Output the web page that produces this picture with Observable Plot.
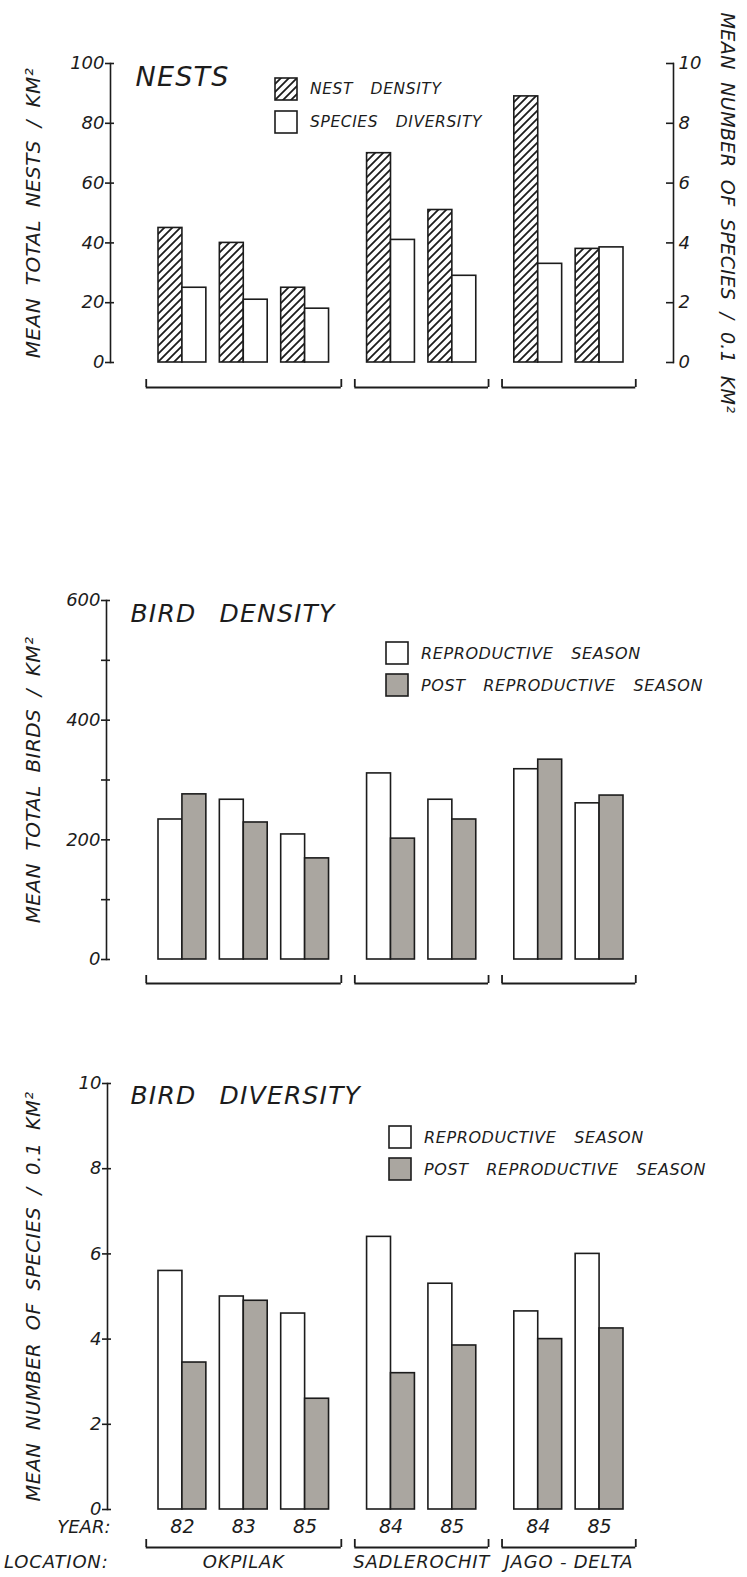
<!DOCTYPE html>
<html>
<head>
<meta charset="utf-8">
<script src="https://cdn.jsdelivr.net/npm/d3@7"></script>
<script src="https://cdn.jsdelivr.net/npm/@observablehq/plot@0.6"></script>
<style>
  html, body { margin: 0; padding: 0; background: #fff; }
  #page { position: relative; width: 747px; height: 1577px; overflow: hidden;
          font-family: "DejaVu Sans", sans-serif; font-style: italic; color: #1c1c1c; }
  .panel { position: absolute; left: 0; }
  .panel svg { overflow: visible; }
  .legend-item { position: absolute; display: flex; align-items: center; white-space: nowrap;
                 font-size: 16px; letter-spacing: 0.6px; word-spacing: 12px; }
  .legend-item svg { margin-right: 12px; flex: none; }
  .wide text { word-spacing: 6px; letter-spacing: 0.4px; }
  .title text { word-spacing: 14px; letter-spacing: 1.2px; }
  .loc text { letter-spacing: 0.8px; }
</style>
</head>
<body>
<div id="page"></div>
<script>
// ---------------- data ----------------
const groupOrder = ["OKPILAK", "SADLEROCHIT", "JAGO - DELTA"];
const locations = ["OKPILAK", "OKPILAK", "OKPILAK", "SADLEROCHIT", "SADLEROCHIT", "JAGO - DELTA", "JAGO - DELTA"];
const years = ["82", "83", "85", "84", "85", "84", "85"];

const nestDensity = [45, 40, 25, 70, 51, 89, 38];            // nests / km2 (left axis)
const nestSpeciesDiversity = [2.5, 2.1, 1.8, 4.1, 2.9, 3.3, 3.85]; // species / 0.1 km2 (right axis)

const birdDensityRepro = [234, 267, 209, 311, 267, 318, 261];
const birdDensityPost = [276, 229, 169, 202, 234, 334, 274];

const birdDiversityRepro = [5.6, 5.0, 4.6, 6.4, 5.3, 4.65, 6.0];
const birdDiversityPost = [3.45, 4.9, 2.6, 3.2, 3.85, 4.0, 4.25];

const nestTicks = [0, 20, 40, 60, 80, 100];
const speciesTickLabels = ["0", "2", "4", "6", "8", "10"];
const densityTicks = [0, 100, 200, 300, 400, 500, 600];
const densityTickLabels = ["0", "", "200", "", "400", "", "600"];
const diversityTicks = [0, 2, 4, 6, 8, 10];

const titles = ["NESTS", "BIRD DENSITY", "BIRD DIVERSITY"];
const yLabels = ["MEAN TOTAL NESTS / KM²", "MEAN TOTAL BIRDS / KM²", "MEAN NUMBER OF SPECIES / 0.1 KM²"];
const rightLabel = "MEAN NUMBER OF SPECIES / 0.1 KM²";
const nestLegend = ["NEST DENSITY", "SPECIES DIVERSITY"];
const seasonLegend = ["REPRODUCTIVE SEASON", "POST REPRODUCTIVE SEASON"];

// ---------------- styling / layout ----------------
const INK = "#1c1c1c";
const GRAY = "#aaa6a0";
const GAP = 0.4;     // extra slot gap between locations
const BAR = 0.39;    // width of one bar in slot units
const slots = locations.map((loc, i) => i + GAP * groupOrder.indexOf(loc));
const rows = years.map((yr, i) => ({location: locations[i], year: yr, slot: slots[i], i}));
const groups = groupOrder.map(g => {
  const s = rows.filter(r => r.location === g).map(r => r.slot);
  return {location: g, x1: d3.min(s) - 0.2, x2: d3.max(s) + 2 * BAR + 0.2};
});
const bracketEnds = groups.flatMap(g => [g.x1, g.x2]);
const xMax = d3.max(slots) + 2 * BAR;

const HATCH = `<pattern id="hatch" patternUnits="userSpaceOnUse" width="8" height="8">
  <rect width="8" height="8" fill="#fff"/>
  <path d="M-2,2 l4,-4 M0,8 l8,-8 M6,10 l4,-4" stroke="${INK}" stroke-width="1.8"/></pattern>`;

function makePanel({top, height, marginTop, marginBottom, marginLeft, yDomain, marks}) {
  const svg = Plot.plot({
    width: 747, height, marginTop, marginBottom, marginLeft, marginRight: 74,
    x: {type: "linear", domain: [0, xMax], range: [158, 623], axis: null},
    y: {domain: yDomain, label: null},
    style: {fontFamily: '"DejaVu Sans", sans-serif', fontStyle: "italic", fontSize: "18px",
            color: INK, background: "transparent", overflow: "visible"},
    marks
  });
  d3.select(svg).insert("defs", ":first-child").html(HATCH);
  const div = document.createElement("div");
  div.className = "panel";
  div.style.top = top + "px";
  div.appendChild(svg);
  document.getElementById("page").appendChild(div);
}

function pairMarks(valuesA, valuesB, fillA, fillB, yMul = 1, yMulB = 1) {
  const a = rows.map(r => ({...r, v: valuesA[r.i] * yMul}));
  const b = rows.map(r => ({...r, v: valuesB[r.i] * yMulB}));
  return [
    Plot.rect(a, {x1: d => d.slot, x2: d => d.slot + BAR, y1: 0, y2: "v", fill: fillA, stroke: INK, strokeWidth: 1.6}),
    Plot.rect(b, {x1: d => d.slot + BAR, x2: d => d.slot + 2 * BAR, y1: 0, y2: "v", fill: fillB, stroke: INK, strokeWidth: 1.6})
  ];
}

function bracketMarks(offset) {
  return [
    Plot.ruleY(groups, {x1: "x1", x2: "x2", y: 0, dy: offset, stroke: INK, strokeWidth: 1.8}),
    Plot.ruleX(bracketEnds, {x: d => d, y1: 0, y2: 0, insetTop: -8, dy: offset, stroke: INK, strokeWidth: 1.8})
  ];
}

function leftAxis(ticks, labels) {
  return Plot.axisY({anchor: "left", ticks, tickFormat: d => labels[ticks.indexOf(d)],
                     tickSize: 9, dx: 4, tickPadding: 1, strokeWidth: 1.6, fontSize: 18, label: null});
}

function title(text, dx, dy, fontSize) {
  return Plot.text([text], {frameAnchor: "top-left", textAnchor: "start", lineAnchor: "middle",
                            dx, dy, fontSize, className: "title"});
}

function sideLabel(text, anchor, dx, fontSize = 20) {
  return Plot.text([text], {frameAnchor: anchor, textAnchor: "middle", lineAnchor: "middle",
                            rotate: anchor === "left" ? -90 : 90, dx, fontSize, className: "wide"});
}

// ---------------- panel 1: NESTS ----------------
makePanel({
  top: 0, height: 410, marginTop: 63, marginBottom: 48, marginLeft: 110, yDomain: [0, 100],
  marks: [
    ...pairMarks(nestDensity, nestSpeciesDiversity, "url(#hatch)", "#fff", 1, 10),
    Plot.frame({anchor: "left", stroke: INK, strokeWidth: 1.6}),
    Plot.frame({anchor: "right", stroke: INK, strokeWidth: 1.6}),
    leftAxis(nestTicks, nestTicks.map(String)),
    Plot.axisY({anchor: "right", ticks: nestTicks, tickFormat: d => speciesTickLabels[nestTicks.indexOf(d)],
                tickSize: 8, dx: -8, tickPadding: 5, strokeWidth: 1.6, fontSize: 18, label: null}),
    ...bracketMarks(25),
    title(titles[0], 25, 14, 27),
    sideLabel(yLabels[0], "left", -77),
    sideLabel(rightLabel, "right", 54, 19)
  ]
});

// ---------------- panel 2: BIRD DENSITY ----------------
makePanel({
  top: 560, height: 440, marginTop: 40, marginBottom: 41, marginLeft: 106, yDomain: [0, 600],
  marks: [
    ...pairMarks(birdDensityRepro, birdDensityPost, "#fff", GRAY),
    Plot.frame({anchor: "left", stroke: INK, strokeWidth: 1.6}),
    leftAxis(densityTicks, densityTickLabels),
    ...bracketMarks(24),
    title(titles[1], 24, 13, 25),
    sideLabel(yLabels[1], "left", -73)
  ]
});

// ---------------- panel 3: BIRD DIVERSITY ----------------
makePanel({
  top: 1040, height: 537, marginTop: 43, marginBottom: 68, marginLeft: 107, yDomain: [0, 10],
  marks: [
    ...pairMarks(birdDiversityRepro, birdDiversityPost, "#fff", GRAY),
    Plot.frame({anchor: "left", stroke: INK, strokeWidth: 1.6}),
    leftAxis(diversityTicks, diversityTicks.map(String)),
    ...bracketMarks(38),
    Plot.text(rows, {x: d => d.slot + BAR, y: 0, dy: 17, text: "year", fontSize: 19, lineAnchor: "middle"}),
    Plot.text(groups, {x: d => (d.x1 + d.x2) / 2, y: 0, dy: 53, text: "location", fontSize: 18,
                       lineAnchor: "middle", className: "loc"}),
    Plot.text(["YEAR:"], {frameAnchor: "bottom-left", textAnchor: "end", lineAnchor: "middle",
                          dx: 3, dy: 18, fontSize: 18}),
    Plot.text(["LOCATION:"], {frameAnchor: "bottom-left", textAnchor: "end", lineAnchor: "middle",
                              dx: 1, dy: 53, fontSize: 18, className: "loc"}),
    title(titles[2], 23, 12, 25),
    sideLabel(yLabels[2], "left", -74, 19.5)
  ]
});

// ---------------- legends (HTML overlays) ----------------
function swatch(kind) {
  const fill = kind === "hatch" ? "url(#hatchLegend)" : kind === "gray" ? GRAY : "#fff";
  return `<svg width="24" height="24" viewBox="0 0 24 24">
    <defs><pattern id="hatchLegend" patternUnits="userSpaceOnUse" width="8" height="8">
      <rect width="8" height="8" fill="#fff"/>
      <path d="M-2,2 l4,-4 M0,8 l8,-8 M6,10 l4,-4" stroke="${INK}" stroke-width="1.8"/></pattern></defs>
    <rect x="1" y="1" width="22" height="22" fill="${fill}" stroke="${INK}" stroke-width="1.6"/></svg>`;
}
function legendItem(left, top, kind, label, fontSize) {
  const el = document.createElement("div");
  el.className = "legend-item";
  el.style.left = left + "px";
  el.style.top = top + "px";
  if (fontSize) el.style.fontSize = fontSize + "px";
  el.innerHTML = swatch(kind) + `<span>${label}</span>`;
  document.getElementById("page").appendChild(el);
}
legendItem(274, 77, "hatch", nestLegend[0], 15.5);
legendItem(274, 110, "open", nestLegend[1], 15.5);
legendItem(385, 641, "open", seasonLegend[0]);
legendItem(385, 673, "gray", seasonLegend[1]);
legendItem(388, 1125, "open", seasonLegend[0]);
legendItem(388, 1157, "gray", seasonLegend[1]);
</script>
</body>
</html>
